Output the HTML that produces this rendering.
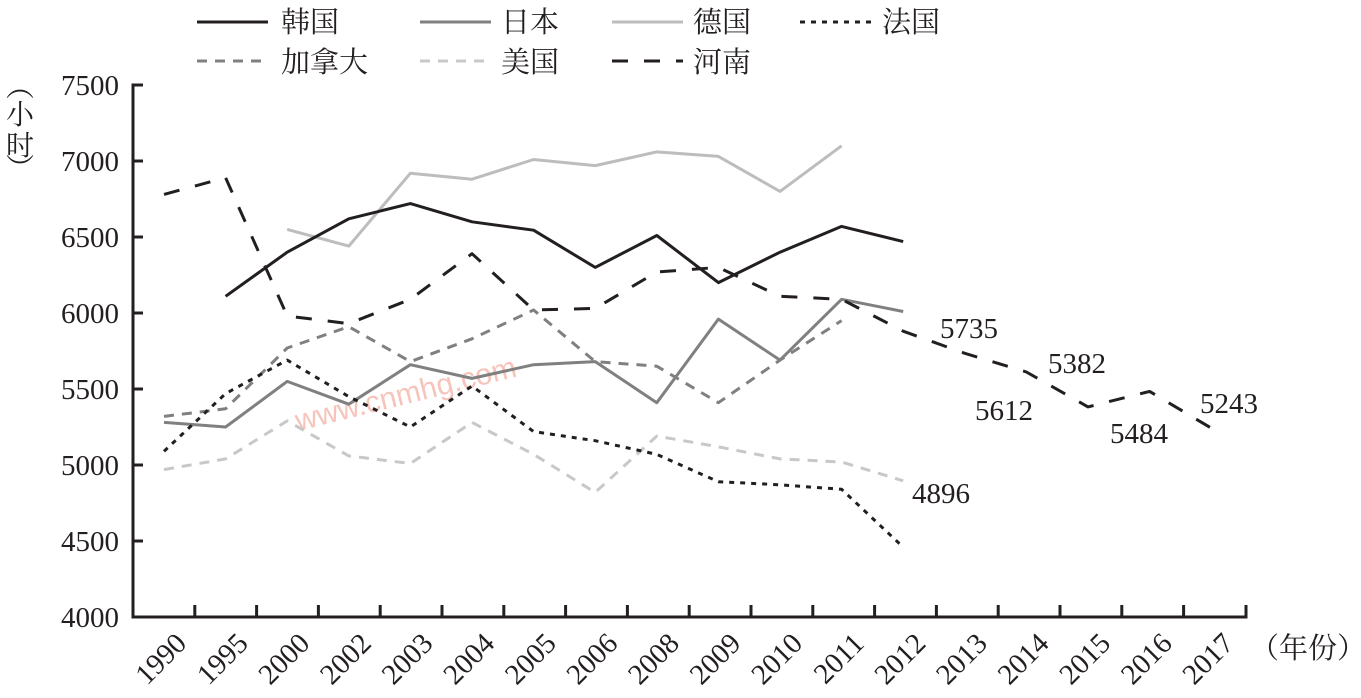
<!DOCTYPE html>
<html><head><meta charset="utf-8"><style>
body{margin:0;background:#fff;}
svg{display:block;}
text{font-family:"Liberation Serif","Noto Serif CJK SC",serif;fill:#231f20;}
.cj{font-family:"Liberation Serif","Noto Serif CJK SC",serif;}
</style></head><body>
<svg width="1361" height="698" viewBox="0 0 1361 698" xmlns="http://www.w3.org/2000/svg">
<g id="legend" stroke-width="3" fill="none">
<line x1="197" y1="22" x2="268" y2="22" stroke="#231f20"/>
<line x1="420" y1="22" x2="491" y2="22" stroke="#808080"/>
<line x1="612" y1="22" x2="683" y2="22" stroke="#bdbdbd"/>
<line x1="800" y1="22" x2="872" y2="22" stroke="#231f20" stroke-dasharray="5,6"/>
<line x1="197" y1="61" x2="268" y2="61" stroke="#808080" stroke-dasharray="10,8"/>
<line x1="420" y1="61" x2="491" y2="61" stroke="#c8c8c8" stroke-dasharray="10,8"/>
<line x1="612" y1="61" x2="683" y2="61" stroke="#231f20" stroke-dasharray="16,16"/>
</g>
<g font-size="29">
<text class="cj" x="281" y="32">韩国</text>
<text class="cj" x="501" y="32">日本</text>
<text class="cj" x="693" y="32">德国</text>
<text class="cj" x="882" y="32">法国</text>
<text class="cj" x="281" y="72">加拿大</text>
<text class="cj" x="501" y="72">美国</text>
<text class="cj" x="693" y="72">河南</text>
</g>
<text class="cj" font-size="28" x="6" y="96">︵</text>
<text class="cj" font-size="28" x="6" y="124">小</text>
<text class="cj" font-size="28" x="6" y="155">时</text>
<text class="cj" font-size="28" x="6" y="178">︶</text>
<text x="290" y="405" font-size="30" style="fill:#f6c4ba;font-family:'Liberation Sans',sans-serif" transform="rotate(-14 400 385)">www.cnmhg.com</text>
<g stroke="#231f20" stroke-width="3" fill="none">
<polyline points="143,85 133,85 133,617 1246,617 1246,605"/>
</g>
<g stroke="#231f20" stroke-width="3">
<line x1="133" y1="161" x2="143" y2="161"/><line x1="133" y1="237" x2="143" y2="237"/>
<line x1="133" y1="313" x2="143" y2="313"/><line x1="133" y1="389" x2="143" y2="389"/>
<line x1="133" y1="465" x2="143" y2="465"/><line x1="133" y1="541" x2="143" y2="541"/>
</g>
<g id="xt" stroke="#231f20" stroke-width="3"></g>
<g font-size="29" text-anchor="end">
<text x="119" y="95">7500</text><text x="119" y="171">7000</text><text x="119" y="247">6500</text>
<text x="119" y="323">6000</text><text x="119" y="399">5500</text><text x="119" y="475">5000</text>
<text x="119" y="551">4500</text><text x="119" y="627">4000</text>
</g>
<g id="xl" font-size="29" text-anchor="end"></g>
<text class="cj" font-size="29" x="1250" y="658">（年份）</text>
<g id="series" fill="none" stroke-width="3"></g>
<g font-size="29">
<text x="940" y="338">5735</text><text x="1048" y="373">5382</text><text x="975" y="420">5612</text>
<text x="1110" y="443">5484</text><text x="1200" y="413">5243</text><text x="912" y="503">4896</text>
</g>
<script>
var ns="http://www.w3.org/2000/svg",S=61.6,X0=164;
function X(i){return X0+S*i;}function Y(v){return 617-(v-4000)*0.152;}
var xt=document.getElementById('xt'),xl=document.getElementById('xl');
var yrs=["1990","1995","2000","2002","2003","2004","2005","2006","2008","2009","2010","2011","2012","2013","2014","2015","2016","2017"];
for(var k=1;k<=18;k++){var l=document.createElementNS(ns,'line');var x=133+k*61.8;if(k==18)x=1246;l.setAttribute('x1',x);l.setAttribute('x2',x);l.setAttribute('y1',605);l.setAttribute('y2',617);xt.appendChild(l);}
yrs.forEach(function(y,i){var t=document.createElementNS(ns,'text');var x=X(i)+24,yy=645;t.setAttribute('x',x);t.setAttribute('y',yy);t.setAttribute('transform','rotate(-45 '+x+' '+yy+')');t.textContent=y;xl.appendChild(t);});
var se=document.getElementById('series');
function add(start,vals,col,dash){var p=vals.map(function(v,i){return X(start+i).toFixed(1)+','+Y(v).toFixed(1);}).join(' ');var e=document.createElementNS(ns,'polyline');e.setAttribute('points',p);e.setAttribute('stroke',col);if(dash)e.setAttribute('stroke-dasharray',dash);e.setAttribute('stroke-linejoin','round');se.appendChild(e);}
add(0,[4970,5040,5290,5060,5010,5280,5070,4820,5190,5120,5040,5020,4896],"#c8c8c8","10,8");
add(0,[5320,5370,5770,5910,5680,5830,6020,5680,5650,5410,5690,5950],"#808080","10,8");
add(2,[6550,6440,6920,6880,7010,6970,7060,7030,6800,7100],"#bdbdbd");
add(0,[5280,5250,5550,5400,5660,5570,5660,5680,5410,5960,5690,6090,6010],"#808080");
add(1,[6110,6400,6620,6720,6600,6545,6300,6510,6200,6400,6570,6470],"#231f20");
add(0,[5090,5470,5690,5450,5250,5520,5220,5160,5070,4890,4870,4840,4460],"#231f20","5,6");
add(0,[6780,6890,5980,5930,6090,6390,6020,6030,6270,6300,6110,6090,5880,5735,5612,5382,5484,5243],"#231f20","16,16");
</script>
</svg>
</body></html>
